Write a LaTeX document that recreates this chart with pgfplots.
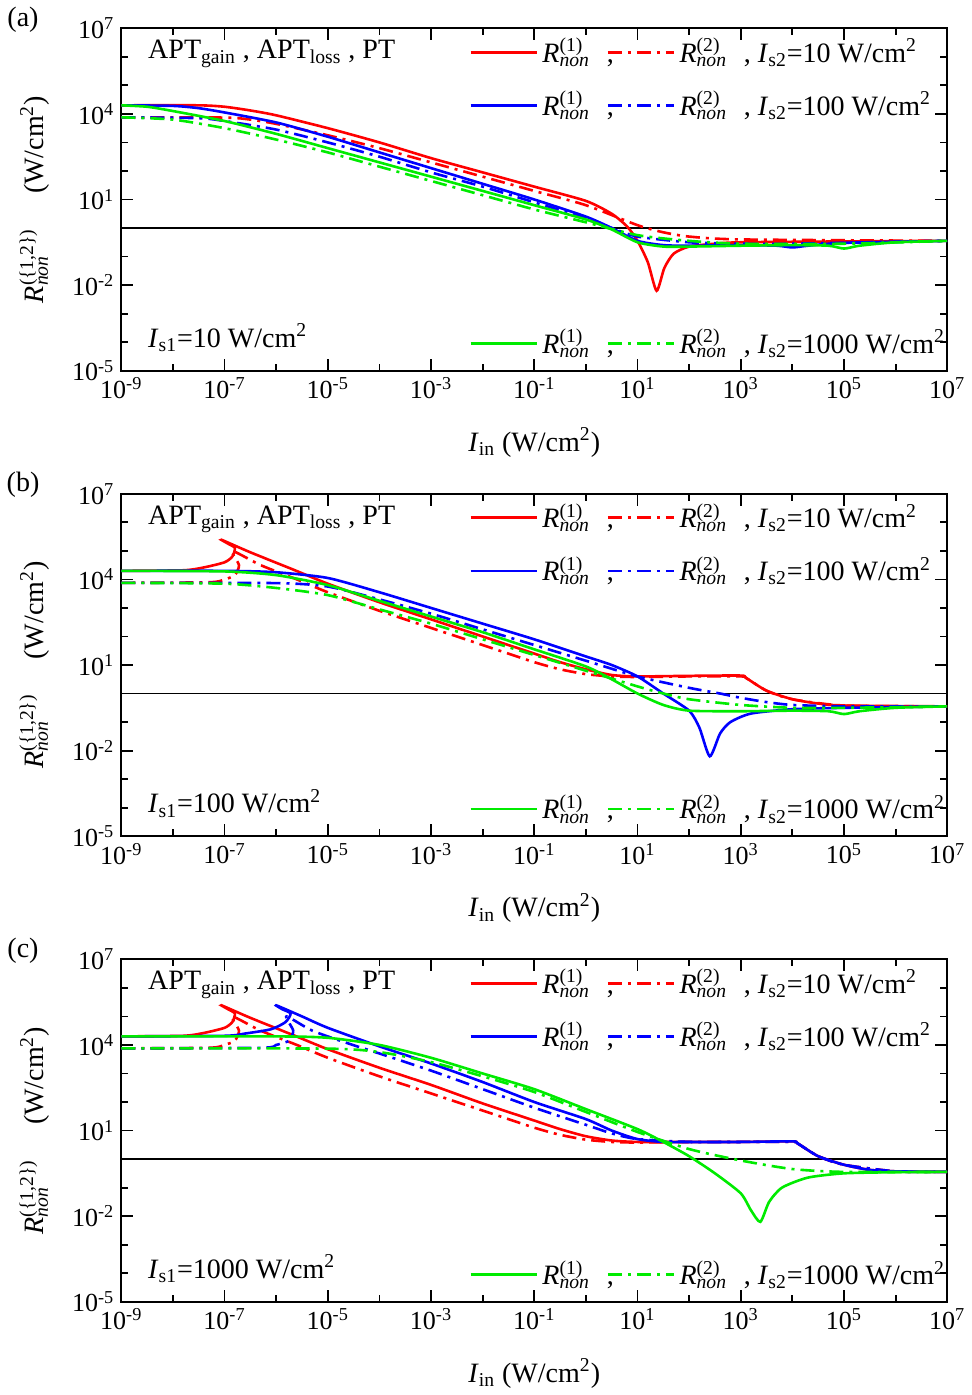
\documentclass[border=0pt]{standalone}
\usepackage{pgfplots}
\pgfplotsset{compat=1.18}
\usepackage{fontspec}
\setmainfont{Liberation Serif}
\definecolor{gr}{RGB}{0,235,0}
\newcommand{\Rn}[1]{\textit{R}\rlap{\textsuperscript{(#1)}}\textsubscript{\textit{non}}\hspace{0.6em}}
\newcommand{\Wc}{W/cm\textsuperscript{2}}
\pgfplotsset{myax/.style={
  width=412.5pt, height=171pt, scale only axis, anchor=north west,
  xmin=-9, xmax=7, ymin=-5, ymax=7, clip=false,
  xtick={-9,-7,-5,-3,-1,1,3,5,7},
  xticklabels={10\textsuperscript{-9},10\textsuperscript{-7},10\textsuperscript{-5},10\textsuperscript{-3},10\textsuperscript{-1},10\textsuperscript{1},10\textsuperscript{3},10\textsuperscript{5},10\textsuperscript{7}},
  minor xtick={-8,-6,-4,-2,0,2,4,6},
  ytick={-5,-2,1,4,7},
  yticklabels={10\textsuperscript{-5},10\textsuperscript{-2},10\textsuperscript{1},10\textsuperscript{4},10\textsuperscript{7}},
  minor ytick={-4,-3,-1,0,2,3,5,6},
  tick align=inside, major tick length=6pt, minor tick length=3.5pt,
  axis line style={line width=1pt}, tick style={line width=0.9pt,black},
  ticklabel style={font=\fontsize{13}{15}\selectfont},
  xlabel={\textit{I}\textsubscript{in} (\Wc)},
  ylabel={\textit{R}\rlap{\textsuperscript{(\{1,2\})}}\textsubscript{\textit{non}}\hspace{2.2em}(\Wc)},
  label style={font=\fontsize{14}{16}\selectfont},
  xlabel style={at={(axis description cs:0.5,-0.21)},anchor=center},
  ylabel style={at={(axis description cs:-0.105,0.5)},anchor=center},
  every axis plot/.append style={line width=1.3pt, smooth, tension=0.4},
}}
\tikzset{dd/.style={dash pattern=on 7pt off 3pt on 1.5pt off 3pt}}
\newcommand{\legrow}[3]{%
    \draw[#2,line width=1.3pt] (rel axis cs:0.423,#1) -- (rel axis cs:0.503,#1);
    \node[anchor=west,inner sep=1pt,font=\fontsize{14}{16}\selectfont] at (rel axis cs:0.507,#1) {\Rn{1},};
    \draw[#2,line width=1.3pt,dd] (rel axis cs:0.589,#1) -- (rel axis cs:0.669,#1);
    \node[anchor=west,inner sep=1pt,font=\fontsize{14}{16}\selectfont] at (rel axis cs:0.673,#1) {\Rn{2}, \textit{I}\textsubscript{s2}=#3 \Wc};}
\newcommand{\legendstuff}[2]{%
  \node[anchor=west,font=\fontsize{14}{16}\selectfont] at (rel axis cs:0.024,0.925) {APT\textsubscript{gain} , APT\textsubscript{loss} , PT};
  \node[anchor=west,font=\fontsize{14}{16}\selectfont] at (rel axis cs:0.024,0.096) {\textit{I}\textsubscript{s1}=#1 \Wc};
  \node[anchor=center,font=\fontsize{14}{16}\selectfont] at (rel axis cs:-0.119,1.026) {(#2)};
  \legrow{0.93}{red}{10}
  \legrow{0.775}{blue}{100}
  \legrow{0.079}{gr}{1000}}
\begin{document}
\begin{tikzpicture}
% ---------------- (a)
\begin{axis}[myax, at={(0,0)}]
\addplot[black,line width=0.8pt,no marks,sharp plot] coordinates {(-9,0) (7,0)};
\addplot[red,no marks] coordinates {(-9,4.3)(-7.5,4.3)(-7,4.25)(-6.5,4.12)(-6,3.95)(-5,3.5)(-4,3.0)(-3,2.45)(-2,1.95)(-1,1.45)(0,0.95)(0.5,0.5)(0.8,0.05)(1.0,-0.45)(1.2,-1.2)(1.37,-2.2)(1.52,-1.4)(1.7,-0.9)(2,-0.65)(2.5,-0.55)(3,-0.5)(5,-0.47)(7,-0.45)};
\addplot[red,dd,no marks] coordinates {(-9,3.88)(-7,3.87)(-6.5,3.8)(-6,3.65)(-5,3.25)(-4,2.8)(-3,2.3)(-2,1.8)(-1,1.3)(0,0.8)(1,0.1)(1.5,-0.15)(2,-0.3)(3,-0.4)(7,-0.45)};
\addplot[blue,no marks] coordinates {(-9,4.3)(-8,4.28)(-7.5,4.2)(-7,4.05)(-6,3.7)(-5,3.2)(-4,2.65)(-3,2.1)(-2,1.55)(-1,1.0)(0,0.4)(0.5,0.0)(1,-0.45)(1.5,-0.6)(2,-0.62)(3,-0.6)(3.7,-0.62)(4,-0.68)(4.3,-0.62)(5,-0.52)(7,-0.45)};
\addplot[blue,dd,no marks] coordinates {(-9,3.88)(-7.5,3.85)(-7,3.75)(-6,3.45)(-5,3.0)(-4,2.5)(-3,1.95)(-2,1.45)(-1,0.9)(0,0.35)(0.5,0.0)(1,-0.3)(2,-0.5)(3,-0.55)(4,-0.55)(7,-0.45)};
\addplot[gr,no marks] coordinates {(-9,4.3)(-8.5,4.25)(-8,4.1)(-7,3.75)(-6,3.3)(-5,2.8)(-4,2.3)(-3,1.8)(-2,1.3)(-1,0.8)(0,0.3)(0.5,-0.05)(1,-0.5)(1.5,-0.65)(2,-0.65)(3,-0.62)(4,-0.6)(4.7,-0.62)(5,-0.72)(5.3,-0.62)(6,-0.5)(7,-0.45)};
\addplot[gr,dd,no marks] coordinates {(-9,3.88)(-8,3.8)(-7,3.5)(-6,3.1)(-5,2.65)(-4,2.15)(-3,1.65)(-2,1.15)(-1,0.65)(0,0.2)(1,-0.25)(2,-0.45)(3,-0.55)(5,-0.55)(7,-0.45)};
\legendstuff{10}{a}
\end{axis}
% ---------------- (b)
\begin{axis}[myax, at={(0,-232.5pt)}]
\addplot[black,line width=0.8pt,no marks,sharp plot] coordinates {(-9,0) (7,0)};
\addplot[red,no marks] coordinates {(-9,4.3)(-7.8,4.32)(-7.4,4.42)(-7.0,4.6)(-6.85,4.8)(-6.8,5.1)(-6.93,5.25)(-7.06,5.39)(-6.5,4.95)(-5.65,4.33)(-5,3.85)(-4,3.2)(-3,2.6)(-2,2.0)(-1,1.4)(-0.5,1.1)(0,0.85)(0.5,0.65)(1,0.6)(2,0.62)(3,0.63)(3.1,0.55)(3.5,0.1)(4,-0.2)(4.5,-0.35)(5,-0.42)(7,-0.45)};
\addplot[red,dd,no marks] coordinates {(-9,3.88)(-7.3,3.9)(-7.0,4.0)(-6.8,4.15)(-6.72,4.5)(-6.85,5.0)(-6.3,4.5)(-5.6,4.0)(-5,3.55)(-4,2.9)(-3,2.3)(-2,1.7)(-1,1.1)(-0.5,0.85)(0,0.68)(0.5,0.6)(1,0.58)(2,0.6)(3,0.6)(3.1,0.55)(3.5,0.1)(4,-0.2)(5,-0.42)(7,-0.45)};
\addplot[blue,no marks] coordinates {(-9,4.3)(-7,4.3)(-6,4.25)(-5,4.05)(-4,3.55)(-3,3.0)(-2,2.45)(-1,1.9)(0,1.3)(0.5,1.0)(1,0.6)(1.5,0.0)(2,-0.6)(2.2,-1.2)(2.4,-2.2)(2.6,-1.4)(2.8,-1.0)(3.2,-0.7)(4,-0.55)(5,-0.5)(7,-0.45)};
\addplot[blue,dd,no marks] coordinates {(-9,3.88)(-6,3.87)(-5,3.75)(-4,3.3)(-3,2.8)(-2,2.25)(-1,1.7)(0,1.15)(1,0.6)(2,0.2)(2.6,0.0)(3,-0.15)(3.5,-0.3)(4,-0.4)(5,-0.45)(7,-0.45)};
\addplot[gr,no marks] coordinates {(-9,4.3)(-7,4.28)(-6,4.15)(-5,3.8)(-4,3.25)(-3,2.7)(-2,2.15)(-1,1.55)(0,0.95)(0.5,0.5)(1,0.0)(1.5,-0.4)(2,-0.6)(3,-0.62)(4,-0.6)(4.7,-0.62)(5,-0.72)(5.3,-0.62)(6,-0.5)(7,-0.45)};
\addplot[gr,dd,no marks] coordinates {(-9,3.88)(-7,3.85)(-6,3.7)(-5,3.45)(-4,2.95)(-3,2.45)(-2,1.9)(-1,1.35)(0,0.8)(1,0.25)(1.5,0.0)(2,-0.2)(3,-0.4)(4,-0.5)(5,-0.5)(7,-0.45)};
\legendstuff{100}{b}
\end{axis}
% ---------------- (c)
\begin{axis}[myax, at={(0,-465pt)}]
\addplot[black,line width=0.8pt,no marks,sharp plot] coordinates {(-9,0) (7,0)};
\addplot[red,no marks] coordinates {(-9,4.3)(-7.8,4.32)(-7.4,4.42)(-7.0,4.6)(-6.85,4.8)(-6.8,5.1)(-6.93,5.25)(-7.06,5.39)(-6.5,4.95)(-5.65,4.33)(-5,3.85)(-4,3.2)(-3,2.6)(-2,1.95)(-1,1.35)(-0.5,1.05)(0,0.8)(0.5,0.65)(1,0.6)(2,0.6)(3,0.6)(4,0.62)(4.1,0.55)(4.5,0.1)(5,-0.2)(5.5,-0.38)(6,-0.43)(7,-0.45)};
\addplot[red,dd,no marks] coordinates {(-9,3.88)(-7.3,3.9)(-7.0,4.0)(-6.8,4.15)(-6.72,4.5)(-6.85,5.0)(-6.3,4.5)(-5.6,4.0)(-5,3.55)(-4,2.9)(-3,2.3)(-2,1.7)(-1,1.1)(-0.5,0.85)(0,0.68)(0.5,0.6)(1,0.58)(2,0.6)(3,0.6)(4,0.6)(4.1,0.55)(4.5,0.1)(5,-0.2)(6,-0.43)(7,-0.45)};
\addplot[blue,no marks] coordinates {(-9,4.3)(-7,4.32)(-6.6,4.4)(-6.1,4.55)(-5.82,4.8)(-5.72,5.1)(-5.88,5.25)(-6.0,5.39)(-5.5,5.0)(-5,4.6)(-4,3.95)(-3,3.35)(-2,2.7)(-1,2.0)(0,1.4)(0.5,1.0)(1,0.7)(1.5,0.6)(2,0.6)(3,0.6)(4,0.62)(4.1,0.55)(4.5,0.1)(5,-0.2)(5.5,-0.38)(6,-0.43)(7,-0.45)};
\addplot[blue,dd,no marks] coordinates {(-9,3.88)(-6.3,3.9)(-6.0,4.0)(-5.75,4.15)(-5.67,4.5)(-5.8,5.0)(-5.3,4.5)(-4.6,4.05)(-4,3.7)(-3,3.1)(-2,2.45)(-1,1.8)(0,1.2)(0.5,0.9)(1,0.7)(2,0.6)(3,0.6)(4,0.6)(4.1,0.55)(4.5,0.1)(5,-0.2)(6,-0.43)(7,-0.45)};
\addplot[gr,no marks] coordinates {(-9,4.3)(-6,4.3)(-5,4.25)(-4,4.0)(-3,3.55)(-2,3.0)(-1,2.45)(0,1.75)(1,1.05)(1.5,0.6)(2,0.1)(2.5,-0.5)(3,-1.2)(3.2,-1.8)(3.38,-2.2)(3.55,-1.5)(3.8,-1.0)(4.3,-0.65)(5,-0.5)(6,-0.46)(7,-0.45)};
\addplot[gr,dd,no marks] coordinates {(-9,3.88)(-5,3.87)(-4,3.75)(-3,3.4)(-2,2.9)(-1,2.35)(0,1.65)(1,0.95)(2,0.35)(3,-0.05)(4,-0.35)(5,-0.45)(7,-0.45)};
\legendstuff{1000}{c}
\end{axis}
\end{tikzpicture}
\end{document}
